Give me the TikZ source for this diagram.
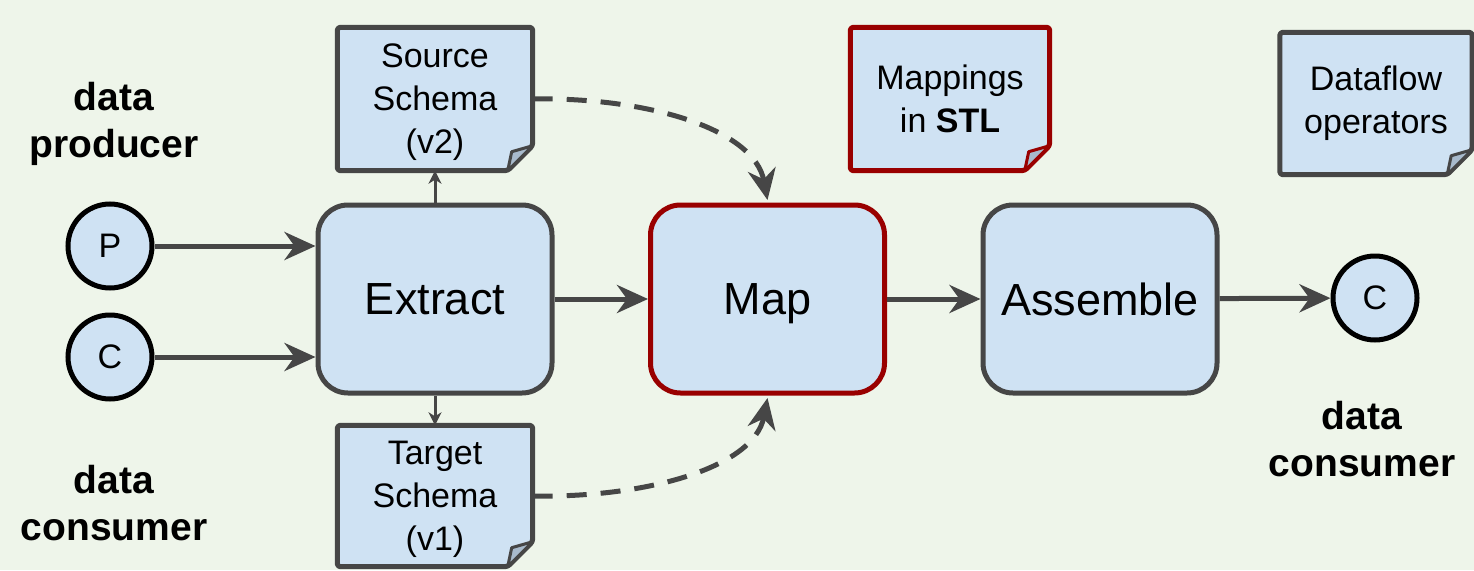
\documentclass[tikz,border=0pt]{standalone}
\usepackage{fontspec}
\setmainfont{Liberation Sans}
\usetikzlibrary{arrows.meta}
\definecolor{bgc}{RGB}{238,245,234}
\definecolor{boxfill}{RGB}{207,226,243}
\definecolor{linegray}{RGB}{70,70,70}
\definecolor{darkred}{RGB}{153,0,0}
\definecolor{flapfill}{RGB}{168,186,204}
\pgfdeclarelayer{bglayer}
\pgfdeclarelayer{doclayer}
\pgfsetlayers{bglayer,doclayer,main}
\newcommand{\drawdoc}[2]{%
  \begin{pgfonlayer}{doclayer}
  \filldraw[fill=boxfill, draw=#2, line width=5pt, rounded corners=3pt, line join=round]
    (#1.north west) -- (#1.north east) -- ([yshift=25pt]#1.south east)
    -- ([xshift=-25pt]#1.south east) -- (#1.south west) -- cycle;
  \filldraw[fill=flapfill, draw=#2, line width=3pt, line join=round]
    ([xshift=-25pt]#1.south east) -- ([xshift=-21pt,yshift=19pt]#1.south east)
    -- ([yshift=25pt]#1.south east) -- cycle;
  \end{pgfonlayer}}
\begin{document}
\begin{tikzpicture}[x=1pt,y=-1pt,
  proc/.style={draw=linegray, fill=boxfill, line width=5pt, rounded corners=30pt,
    minimum width=234pt, minimum height=188pt, inner sep=0pt, text depth=0pt,
    font=\fontsize{45}{54}\selectfont},
  endpt/.style={circle, draw=black, fill=boxfill, line width=5pt, minimum size=84pt,
    inner sep=0pt, font=\fontsize{34}{40}\selectfont},
  docnode/.style={inner sep=0pt, align=center, font=\fontsize{34}{43}\selectfont},
  role/.style={align=center, font=\fontsize{39}{47}\selectfont\bfseries},
  flow/.style={draw=linegray, line width=5pt, -{Stealth[length=31pt,width=28pt,inset=10pt]}},
  smallflow/.style={draw=linegray, line width=3pt, -{Stealth[length=13pt,width=13pt,inset=4pt]}},
  dashflow/.style={draw=linegray, line width=5pt, dash pattern=on 20pt off 14pt,
    -{Stealth[length=31pt,width=28pt,inset=10pt]}}
]
\begin{pgfonlayer}{bglayer}
\fill[bgc] (0,0) rectangle (1474,570);
\end{pgfonlayer}
\useasboundingbox (0,0) rectangle (1474,570);

% processes
\node[proc] (ext) at (435,299) {Extract};
\node[proc, draw=darkred] (map) at (767.5,299) {Map};
\node[proc] (asm) at (1100,299) {Assemble};

% end points
\node[endpt] (p) at (110,246) {P};
\node[endpt] (cl) at (110,357) {C};
\node[endpt] (cr) at (1375,298) {C};

% documents
\node[docnode, text depth=0pt, minimum width=195pt, minimum height=143pt] (src) at (435,99) {Source\\Schema\\(v2)};
\node[docnode, text depth=0pt, minimum width=195pt, minimum height=141pt] (tgt) at (435,496) {Target\\Schema\\(v1)};
\node[docnode, minimum width=199pt, minimum height=143pt] (stl) at (950,99) {Mappings\\in \textbf{STL}};
\node[docnode, minimum width=192pt, minimum height=142pt] (dfo) at (1376,103.5) {Dataflow\\operators};
\drawdoc{src}{linegray}
\drawdoc{tgt}{linegray}
\drawdoc{stl}{darkred}
\drawdoc{dfo}{linegray}

% role labels
\node[role] (prod) at (114,124) {data\\producer};
\node[role] (consl) at (114,503) {data\\consumer};
\node[role] (consr) at (1362,439) {data\\consumer};

% connectors
\draw[flow] (p) -- (p -| ext.west);
\draw[flow] (cl) -- (cl -| ext.west);
\draw[flow] (ext) -- (map);
\draw[flow] (map) -- (asm);
\draw[flow] (asm) -- (cr);
\draw[smallflow] (ext.north) -- (src.south);
\draw[smallflow] (ext.south) -- (tgt.north);
\draw[dashflow] (src.east) .. controls (645,97) and (754,128) .. ([yshift=2.5pt]map.north);
\draw[dashflow] (tgt.east) .. controls (645,498) and (754,468) .. ([yshift=-2.5pt]map.south);
\end{tikzpicture}
\end{document}
